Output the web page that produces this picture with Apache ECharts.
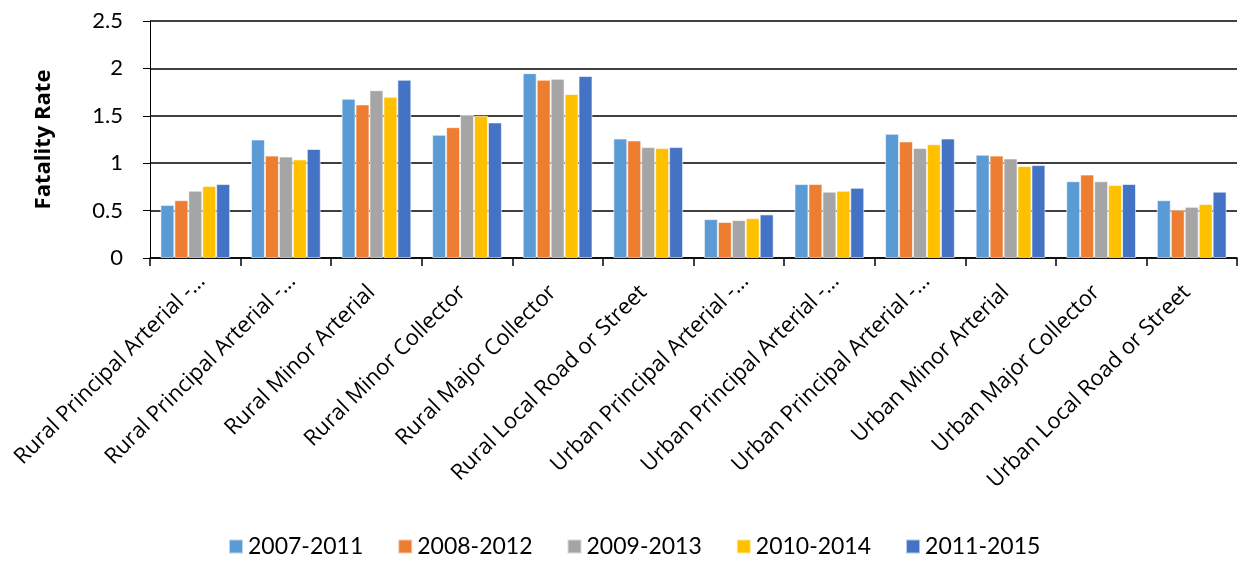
<!DOCTYPE html>
<html>
<head>
<meta charset="utf-8">
<script src="https://cdn.jsdelivr.net/npm/echarts@6/dist/echarts.min.js"></script>
<style>html,body{margin:0;padding:0;background:#fff;}#c{width:1241px;height:572px;}</style>
</head>
<body>
<div id="c"></div>
<script>
const categories = [
  "Rural Principal Arterial -\u2026",
  "Rural Principal Arterial -\u2026",
  "Rural Minor Arterial",
  "Rural Minor Collector",
  "Rural Major Collector",
  "Rural Local Road or Street",
  "Urban Principal Arterial -\u2026",
  "Urban Principal Arterial -\u2026",
  "Urban Principal Arterial -\u2026",
  "Urban Minor Arterial",
  "Urban Major Collector",
  "Urban Local Road or Street"
];
const seriesNames = ["2007-2011", "2008-2012", "2009-2013", "2010-2014", "2011-2015"];
const s2007_2011 = [0.56, 1.25, 1.68, 1.30, 1.95, 1.26, 0.41, 0.78, 1.31, 1.09, 0.81, 0.61];
const s2008_2012 = [0.61, 1.08, 1.62, 1.38, 1.88, 1.24, 0.38, 0.78, 1.23, 1.08, 0.88, 0.51];
const s2009_2013 = [0.71, 1.07, 1.77, 1.51, 1.89, 1.17, 0.40, 0.70, 1.16, 1.05, 0.81, 0.54];
const s2010_2014 = [0.76, 1.04, 1.70, 1.50, 1.73, 1.16, 0.42, 0.71, 1.20, 0.97, 0.77, 0.57];
const s2011_2015 = [0.78, 1.15, 1.88, 1.43, 1.92, 1.17, 0.46, 0.74, 1.26, 0.98, 0.78, 0.70];
const yTicks = [0, 0.5, 1, 1.5, 2, 2.5];
const colors = ["#5B9BD5", "#ED7D31", "#A5A5A5", "#FFC000", "#4472C4"];

const values = [s2007_2011, s2008_2012, s2009_2013, s2010_2014, s2011_2015];
const font = "Lato, sans-serif";
const labelFont = "'Open Sans', sans-serif";
const axisData = categories.map(c => c.endsWith('\u2026')
  ? {value: c, textStyle: {padding: [0, -9, 0, 0]}}
  : c);
const chart = echarts.init(document.getElementById('c'), null, {renderer: 'canvas'});
chart.setOption({
  animation: false,
  color: colors,
  textStyle: {fontFamily: font},
  grid: {left: 150, right: 4, top: 21, bottom: 314, containLabel: false, outerBoundsMode: 'none'},
  legend: {
    bottom: 9, left: 223,
    itemWidth: 14, itemHeight: 14, itemGap: 34,
    icon: 'rect',
    textStyle: {fontSize: 23, color: '#000', fontFamily: font},
    data: seriesNames
  },
  xAxis: {
    type: 'category',
    data: axisData,
    boundaryGap: true,
    axisLine: {lineStyle: {color: '#000', width: 1.5}},
    axisTick: {show: true, alignWithLabel: false, length: 8, lineStyle: {color: '#000', width: 1.5}},
    axisLabel: {rotate: 45, interval: 0, margin: 26, padding: [0, 7, 0, 0], fontSize: 22, color: '#000', fontFamily: labelFont}
  },
  yAxis: {
    type: 'value',
    min: yTicks[0], max: yTicks[yTicks.length - 1], interval: 0.5,
    name: 'Fatality Rate',
    nameLocation: 'middle',
    nameGap: 95,
    nameTextStyle: {fontSize: 22, fontWeight: 'bold', color: '#000', fontFamily: labelFont},
    axisLine: {show: true, lineStyle: {color: '#000', width: 1}},
    axisTick: {show: true, length: 7, lineStyle: {color: '#000'}},
    axisLabel: {margin: 27, fontSize: 22, color: '#000', fontFamily: font},
    splitLine: {show: true, lineStyle: {color: '#404040', width: 2}}
  },
  series: seriesNames.map((n, i) => ({
    name: n,
    type: 'bar',
    data: values[i],
    barGap: '0%',
    barCategoryGap: '23%',
    itemStyle: {color: colors[i], borderColor: 'rgba(255,255,255,0.6)', borderWidth: 1}
  }))
});
</script>
</body>
</html>
